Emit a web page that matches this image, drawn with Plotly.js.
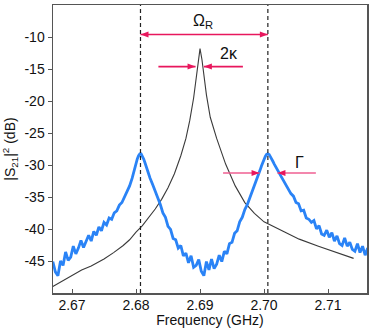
<!DOCTYPE html>
<html>
<head>
<meta charset="utf-8">
<script src="https://cdn.plot.ly/plotly-3.0.1.min.js"></script>
<style>html,body{margin:0;padding:0;background:#fff;}#chart{width:374px;height:328px;}</style>
</head>
<body>
<div id="chart"></div>
<script>
// Black trace: bare cavity transmission (GHz, dB)
const cavityFreq = [2.6670,2.6680,2.6690,2.6700,2.6715,2.6730,2.6750,2.6765,2.6780,2.6790,2.6800,2.6810,2.6820,2.6830,2.6840,2.6850,2.6860,2.6870,2.6878,2.6884,2.6890,2.6894,2.6897,2.6900,2.6903,2.6906,2.6910,2.6916,2.6926,2.6940,2.6955,2.6970,2.6985,2.7000,2.7025,2.7055,2.7085,2.7115,2.7140];
const cavityDb   = [-48.9,-48.3,-47.7,-47.1,-46.3,-45.7,-44.6,-43.6,-42.5,-41.6,-40.4,-39.4,-38.1,-36.8,-35.3,-33.5,-31.3,-28.5,-25.8,-23.0,-19.5,-16.5,-14.0,-11.8,-13.5,-16.0,-19.0,-22.5,-25.8,-29.8,-33.2,-35.8,-37.5,-38.8,-40.0,-41.5,-42.6,-43.6,-44.5];

// Blue trace: coupled (split) transmission (GHz, dB)
const coupledFreq = [2.6670,2.6674,2.6678,2.6682,2.6686,2.6690,2.6694,2.6698,2.6702,2.6706,2.6710,2.6714,2.6718,2.6722,2.6726,2.6730,2.6734,2.6738,2.6742,2.6746,2.6750,2.6754,2.6758,2.6762,2.6766,2.6770,2.6774,2.6778,2.6782,2.6786,2.6790,2.6794,2.6796,2.6798,2.6800,2.6802,2.6804,2.6806,2.6808,2.6810,2.6812,2.6814,2.6816,2.6818,2.6822,2.6826,2.6830,2.6834,2.6838,2.6842,2.6846,2.6850,2.6854,2.6858,2.6862,2.6866,2.6870,2.6874,2.6878,2.6882,2.6886,2.6890,2.6894,2.6898,2.6902,2.6906,2.6910,2.6914,2.6918,2.6922,2.6926,2.6930,2.6934,2.6938,2.6942,2.6946,2.6950,2.6954,2.6958,2.6962,2.6966,2.6970,2.6974,2.6978,2.6982,2.6986,2.6990,2.6994,2.6996,2.6998,2.7000,2.7002,2.7004,2.7006,2.7008,2.7010,2.7012,2.7014,2.7016,2.7018,2.7022,2.7026,2.7030,2.7034,2.7038,2.7042,2.7046,2.7050,2.7054,2.7058,2.7062,2.7066,2.7070,2.7074,2.7078,2.7082,2.7086,2.7090,2.7094,2.7098,2.7102,2.7106,2.7110,2.7114,2.7118,2.7122,2.7126,2.7130,2.7134,2.7138,2.7142,2.7146,2.7150,2.7154,2.7158,2.7162];
const coupledDb   = [-45.0,-46.6,-47.2,-44.9,-45.6,-43.5,-44.8,-44.3,-42.6,-43.8,-42.9,-41.7,-42.8,-41.9,-40.9,-41.8,-40.3,-40.9,-39.6,-40.2,-38.9,-39.3,-38.2,-38.4,-37.4,-37.1,-36.2,-35.8,-34.9,-34.2,-33.2,-32.0,-31.2,-30.4,-29.6,-29.0,-28.5,-28.2,-28.2,-28.5,-29.0,-29.6,-30.3,-30.9,-32.0,-33.0,-34.0,-35.1,-36.1,-37.4,-38.1,-39.5,-40.0,-41.4,-41.6,-42.9,-42.5,-44.1,-43.7,-45.2,-44.1,-45.9,-45.6,-44.7,-46.5,-47.2,-45.0,-46.3,-44.6,-46.1,-45.4,-44.0,-45.0,-43.4,-43.8,-42.2,-42.0,-40.6,-40.2,-38.8,-38.1,-36.9,-36.1,-35.0,-34.0,-32.9,-31.8,-30.7,-30.1,-29.5,-29.0,-28.6,-28.3,-28.2,-28.3,-28.6,-29.0,-29.4,-29.8,-30.2,-30.9,-31.6,-32.3,-33.0,-33.6,-34.4,-34.8,-35.8,-36.0,-37.1,-37.0,-38.2,-38.4,-38.9,-38.6,-39.9,-39.4,-40.7,-40.9,-40.1,-41.2,-40.5,-41.8,-41.0,-42.2,-42.5,-41.3,-42.6,-42.0,-43.1,-43.4,-42.2,-43.6,-42.6,-44.0,-42.9,-44.2,-43.0];

// Mode positions (dashed lines)
const modeFreqs = [2.6807, 2.7006];

// Axes ticks
const xTickVals = [2.67, 2.68, 2.69, 2.70, 2.71];
const xTickText = ["2.67", "2.68", "2.69", "2.70", "2.71"];
const yTickVals = [-45, -40, -35, -30, -25, -20, -15, -10];
const yTickText = ["-45", "-40", "-35", "-30", "-25", "-20", "-15", "-10"];

const pink = '#e8175d';
const pinkLight = '#ef5f92';

const traces = [
  {x: cavityFreq, y: cavityDb, mode: 'lines', line: {color: '#3a3a3a', width: 1.1}, hoverinfo: 'skip'},
  {x: coupledFreq, y: coupledDb, mode: 'lines', line: {color: '#2a83f6', width: 2.8}, hoverinfo: 'skip'}
];

const shapes = modeFreqs.map(f => ({
  type: 'line', xref: 'x', yref: 'paper', x0: f, x1: f, y0: 0, y1: 1,
  line: {color: '#222', width: 1.2, dash: '4px,3px'}
}));

// arrow = line + filled triangular head (pixel-sized)
function head(xHead, y, dir) {
  const p = dir > 0 ? 'M0,0 L-8,3 L-8,-3 Z' : 'M0,0 L8,3 L8,-3 Z';
  return {type: 'path', xref: 'x', yref: 'y', xsizemode: 'pixel', ysizemode: 'pixel',
    xanchor: xHead, yanchor: y, path: p, fillcolor: pink, line: {width: 0}};
}
function arrow(xTail, xHead, y, color) {
  const dir = xHead > xTail ? 1 : -1;
  return [
    {type: 'line', xref: 'x', yref: 'y', x0: xTail, x1: xHead, y0: y, y1: y, line: {color: color, width: 1.6}},
    head(xHead, y, dir)
  ];
}

const omegaY = -9.6, kappaY = -14.6, gammaY = -31.2;
shapes.push({type: 'line', xref: 'x', yref: 'y', x0: modeFreqs[0], x1: modeFreqs[1], y0: omegaY, y1: omegaY, line: {color: pink, width: 1.6}});
shapes.push(head(modeFreqs[0], omegaY, -1));
shapes.push(head(modeFreqs[1], omegaY, 1));
shapes.push(...arrow(2.6835, 2.6893, kappaY, pink));
shapes.push(...arrow(2.6967, 2.6906, kappaY, pink));
shapes.push(...arrow(2.6936, 2.6993, gammaY, pinkLight));
shapes.push(...arrow(2.7081, 2.7021, gammaY, pinkLight));

const annotations = [
  {x: 2.6905, y: -7.6, xref: 'x', yref: 'y', text: 'Ω<sub>R</sub>', showarrow: false, font: {size: 16, color: '#111'}},
  {x: 2.6945, y: -12.6, xref: 'x', yref: 'y', text: '2κ', showarrow: false, font: {size: 16, color: '#111'}},
  {x: 2.7055, y: -29.5, xref: 'x', yref: 'y', text: 'Γ', showarrow: false, font: {size: 16, color: '#111'}}
];

const layout = {
  width: 374, height: 328,
  margin: {l: 53, r: 7, t: 5, b: 35},
  paper_bgcolor: '#fff', plot_bgcolor: '#fff',
  showlegend: false,
  font: {family: 'Liberation Sans, Arial, sans-serif', size: 14, color: '#111'},
  xaxis: {
    range: [2.66703, 2.71609], tickvals: xTickVals, ticktext: xTickText,
    ticks: 'inside', ticklen: 4, tickcolor: '#555', tickwidth: 1,
    showline: true, linecolor: '#555', linewidth: 1.5, mirror: true,
    showgrid: false, zeroline: false, ticklabelstandoff: -1,
    title: {text: 'Frequency (GHz)', font: {size: 14}, standoff: 3},
    tickfont: {size: 14}
  },
  yaxis: {
    range: [-49.9, -5], tickvals: yTickVals, ticktext: yTickText,
    ticks: 'outside', ticklen: 4, tickcolor: '#555', tickwidth: 1,
    showline: true, linecolor: '#555', linewidth: 1.5, mirror: true,
    showgrid: false, zeroline: false,
    title: {text: '|S<sub>21</sub>|<sup>2</sup> (dB)', font: {size: 14}, standoff: 6},
    tickfont: {size: 14}
  },
  shapes: shapes,
  annotations: annotations
};

Plotly.newPlot('chart', traces, layout, {staticPlot: true, displayModeBar: false});
</script>
</body>
</html>
